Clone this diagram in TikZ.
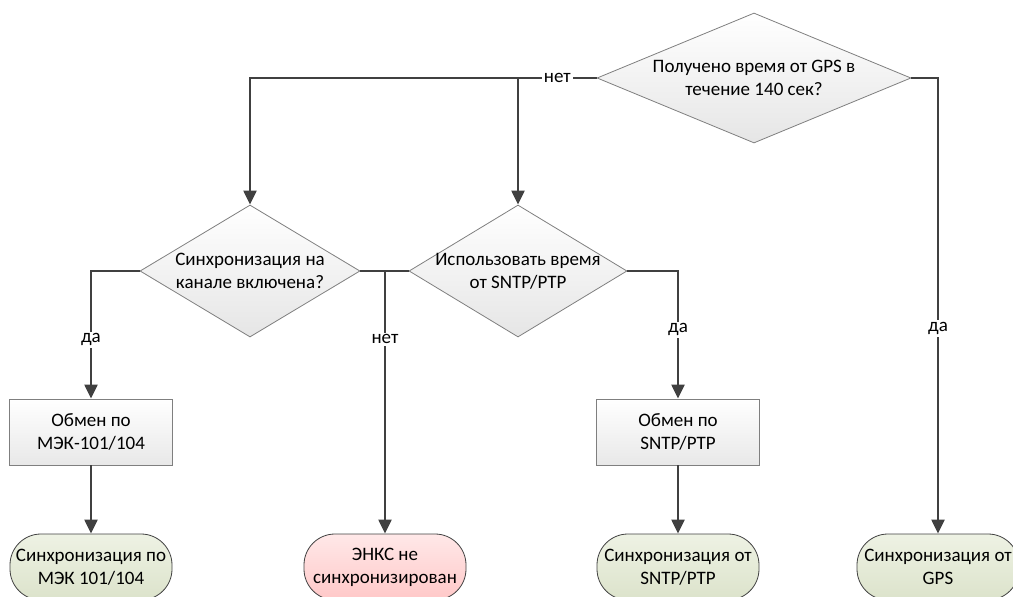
\documentclass[tikz,border=0pt]{standalone}
\usepackage{fontspec}
\setmainfont{Carlito}
\usepackage{tikz}
\usetikzlibrary{positioning, arrows.meta, shapes.geometric}

\definecolor{wireGrey}{HTML}{404040}
\definecolor{edgeGrey}{HTML}{7F7F7F}
\definecolor{okTop}{HTML}{EEF2E4}
\definecolor{okBottom}{HTML}{DCE3CB}
\definecolor{failTop}{HTML}{FFE8E8}
\definecolor{failBottom}{HTML}{FFC8C8}

\begin{document}
\begin{tikzpicture}[x=1pt, y=1pt, font=\fontsize{19}{23}\selectfont,
		decision/.style={diamond, draw=edgeGrey, line width=0.8pt, top color=white, bottom color=black!10, aspect=2, inner xsep=-30pt, inner ysep=0pt, align=center},
		process/.style={rectangle, draw=edgeGrey, line width=0.8pt, top color=white, bottom color=black!9, minimum width=163pt, minimum height=66pt, align=center},
		terminal/.style={rectangle, rounded corners=31pt, draw=wireGrey, line width=0.8pt, minimum width=162pt, minimum height=66pt, inner xsep=1pt, align=center},
		flow/.style={draw=wireGrey, line width=2.2pt, -{Triangle[length=14pt, width=13pt]}},
		wire/.style={draw=wireGrey, line width=2.2pt},
		answer/.style={fill=white, inner sep=2pt}]
		\useasboundingbox (0,0) rectangle (1013,-597);
		
		\node[decision, minimum width=314pt, minimum height=130pt] (dGPS) at (754,-78) {Получено время от GPS в\\течение 140 сек?};
		
		\node[decision, minimum width=220pt, minimum height=132pt, on grid, below left = 193pt and 504pt of dGPS] (dSync) {Синхронизация на\\канале включена?};
		\node[decision, minimum width=218pt, minimum height=132pt, on grid, right = 268pt of dSync] (dSntp) {Использовать время\\от SNTP/PTP};
		
		\node[process, on grid, below left = 161pt and 159pt of dSync] (bMek) {Обмен по\\МЭК-101/104};
		\node[process, on grid, below right = 161pt and 160pt of dSntp] (bSntp) {Обмен по\\SNTP/PTP};
		
		\node[terminal, top color=okTop, bottom color=okBottom, on grid, below = 135pt of bMek] (tMek) {Синхронизация по\\МЭК 101/104};
		\node[terminal, top color=failTop, bottom color=failBottom, on grid, right = 294pt of tMek] (tEnks) {ЭНКС не\\синхронизирован};
		\node[terminal, top color=okTop, bottom color=okBottom, on grid, below = 135pt of bSntp] (tSntp) {Синхронизация от\\SNTP/PTP};
		\node[terminal, top color=okTop, bottom color=okBottom, on grid, below right = 489pt and 184pt of dGPS] (tGps) {Синхронизация от\\GPS};
		
		\coordinate (jTop) at (dSntp.north |- dGPS.west);
		\coordinate (jMid) at (tEnks.north |- dSync.east);
		
		\draw[flow] (dGPS.west) -- node[answer]{нет} (jTop) -| (dSync.north);
		\draw[flow] (jTop) -- (dSntp.north);
		\draw[flow] (dGPS.east) -| node[answer, pos=0.775]{да} (tGps.north);
		
		\draw[flow] (dSync.west) -| node[answer, pos=0.77]{да} (bMek.north);
		\draw[flow] (dSync.east) -- (jMid) -- node[answer, pos=0.26]{нет} (tEnks.north);
		\draw[wire] (dSntp.west) -- (jMid);
		\draw[flow] (dSntp.east) -| node[answer, pos=0.73]{да} (bSntp.north);
		
		\draw[flow] (bMek) -- (tMek);
		\draw[flow] (bSntp) -- (tSntp);
		
	\end{tikzpicture}
\end{document}
